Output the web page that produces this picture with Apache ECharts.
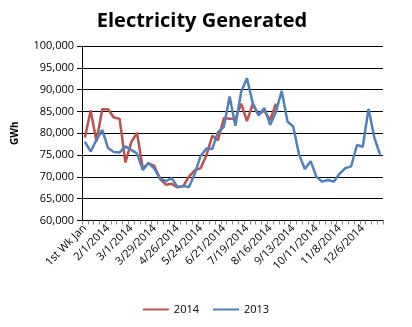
<!DOCTYPE html>
<html>
<head>
<meta charset="utf-8">
<script src="https://cdn.jsdelivr.net/npm/echarts@6/dist/echarts.min.js"></script>
<style>
  html, body { margin: 0; padding: 0; background: #fff; }
  #chart { width: 412px; height: 327px; }
</style>
</head>
<body>
<div id="chart"></div>
<script>
// Weekly categories (week ending dates)
const weeks = [
  '1st Wk Jan', '1/11/2014', '1/18/2014', '1/25/2014', '2/1/2014', '2/8/2014', '2/15/2014', '2/22/2014',
  '3/1/2014', '3/8/2014', '3/15/2014', '3/22/2014', '3/29/2014', '4/5/2014', '4/12/2014', '4/19/2014',
  '4/26/2014', '5/3/2014', '5/10/2014', '5/17/2014', '5/24/2014', '5/31/2014', '6/7/2014', '6/14/2014',
  '6/21/2014', '6/28/2014', '7/5/2014', '7/12/2014', '7/19/2014', '7/26/2014', '8/2/2014', '8/9/2014',
  '8/16/2014', '8/23/2014', '8/30/2014', '9/6/2014', '9/13/2014', '9/20/2014', '9/27/2014', '10/4/2014',
  '10/11/2014', '10/18/2014', '10/25/2014', '11/1/2014', '11/8/2014', '11/15/2014', '11/22/2014', '11/29/2014',
  '12/6/2014', '12/13/2014', '12/20/2014', '12/27/2014'
];

// Weekly generation, GWh
const gen2014 = [
  79000, 85200, 78100, 85500, 85500, 83600, 83300, 73300,
  77900, 80100, 72000, 73100, 72500, 69500, 68200, 68400,
  67600, 67900, 70100, 71500, 72000, 75000, 79400, 78400,
  83500, 83300, 83300, 86800, 82800, 86700, 84300, 85200,
  83000, 86800
];
const gen2013 = [
  78100, 75800, 78500, 80800, 76600, 75700, 75600, 77000,
  76200, 75400, 71600, 73200, 71900, 69600, 69000, 69700,
  67700, 67900, 67700, 70800, 74800, 76500, 76400, 80300,
  81400, 88400, 81700, 89500, 92600, 86900, 84100, 85800,
  81900, 84900, 89700, 82700, 81500, 75100, 71800, 73600,
  70000, 68900, 69300, 68900, 70700, 72000, 72400, 77300,
  76900, 85600, 79000, 75100
];

const yMin = 60000, yMax = 100000, yStep = 5000;

const chart = echarts.init(document.getElementById('chart'), null, { renderer: 'canvas' });
const font = 'Open Sans, Noto Sans, sans-serif';

chart.setOption({
  backgroundColor: '#fff',
  animation: false,
  title: {
    text: 'Electricity Generated',
    left: 197, top: 6, textAlign: 'center',
    textStyle: { fontFamily: font, fontSize: 20, fontWeight: 'bold', color: '#000' }
  },
  legend: {
    top: 299, left: 'center',
    itemWidth: 26, itemHeight: 2, itemGap: 14,
    icon: 'rect',
    textStyle: { fontFamily: font, fontSize: 11, color: '#000' },
    data: ['2014', '2013']
  },
  grid: { left: 82, right: 29, top: 46, height: 174.5 },
  xAxis: {
    type: 'category',
    data: weeks,
    boundaryGap: true,
    axisLine: { lineStyle: { color: '#000', width: 1 } },
    axisTick: { show: true, interval: 0, length: 4, lineStyle: { color: '#888' } },
    axisLabel: {
      interval: 3, rotate: 45, margin: 6,
      fontFamily: font, fontSize: 11, color: '#000'
    }
  },
  yAxis: {
    type: 'value',
    min: yMin, max: yMax, interval: yStep,
    name: 'GWh', nameLocation: 'middle', nameGap: 62, nameRotate: 90,
    nameTextStyle: { fontFamily: font, fontSize: 10, fontWeight: 'bold', color: '#000' },
    axisLine: { show: true, lineStyle: { color: '#000', width: 1 } },
    axisTick: { show: true, length: 5, lineStyle: { color: '#000' } },
    splitLine: { lineStyle: { color: '#000', width: 1 } },
    axisLabel: {
      fontFamily: font, fontSize: 11, color: '#000', margin: 8,
      formatter: v => v.toLocaleString('en-US')
    }
  },
  series: [
    {
      name: '2014', type: 'line', data: gen2014,
      showSymbol: false, symbol: 'none',
      lineStyle: { color: '#C0504D', width: 2.5 },
      itemStyle: { color: '#C0504D' }
    },
    {
      name: '2013', type: 'line', data: gen2013,
      showSymbol: false, symbol: 'none',
      lineStyle: { color: '#4F81BD', width: 2.5 },
      itemStyle: { color: '#4F81BD' }
    }
  ]
});
</script>
</body>
</html>
